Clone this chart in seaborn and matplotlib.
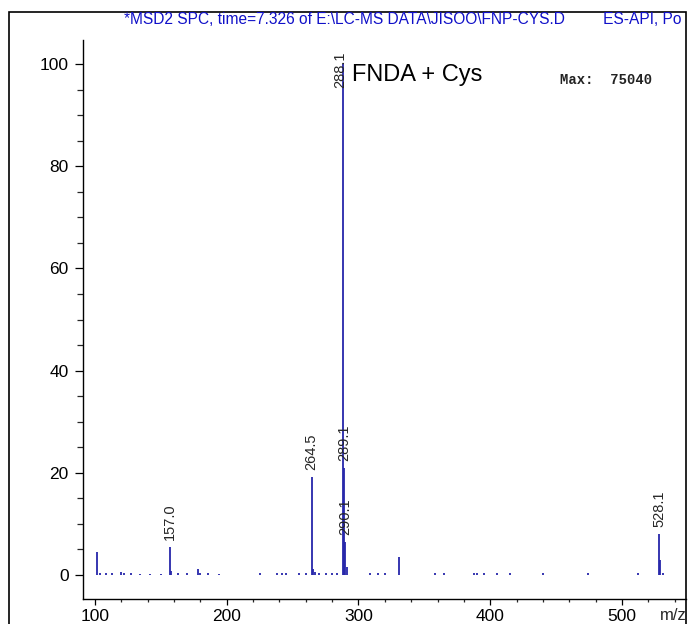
import numpy as np
import pandas as pd
import matplotlib.pyplot as plt
import seaborn as sns
from matplotlib.ticker import MultipleLocator
from matplotlib.patches import Rectangle

# Peaks: m/z and relative abundance (%)
mz = [101.5, 104, 108, 113, 120, 122, 127, 134, 142, 150,
      157.0, 158, 163, 170, 178, 180, 186, 194, 225, 238,
      242, 245, 255, 260, 264.5, 265.5, 267, 270, 275, 280,
      284, 288.1, 289.1, 290.1, 291, 309, 315, 320, 330.5, 358,
      365, 388, 390, 395, 405, 415, 440, 474, 512, 528.1,
      529.1, 531]
abundance = [4.5, 0.3, 0.3, 0.4, 0.6, 0.3, 0.3, 0.2, 0.2, 0.2,
             5.5, 0.8, 0.3, 0.3, 1.2, 0.3, 0.3, 0.2, 0.3, 0.4,
             0.3, 0.3, 0.3, 0.3, 19.2, 1.2, 0.6, 0.4, 0.3, 0.3,
             0.3, 100, 21, 6.5, 1.5, 0.3, 0.3, 0.4, 3.5, 0.3,
             0.3, 0.3, 0.3, 0.3, 0.3, 0.3, 0.3, 0.3, 0.3, 8.0,
             3.0, 0.3]

# labelled peaks
label_mz = [157.0, 264.5, 289.1, 290.1, 528.1]
label_txt = ['157.0', '264.5', '289.1', '290.1', '528.1']

# header as visible in the instrument printout (cut at the frame)
header = r'*MSD2 SPC, time=7.326 of E:\LC-MS DATA\JISOO\FNP-CYS.D         ES-API, Po'

df = pd.DataFrame({'mz': mz, 'abundance': abundance})

sns.set_theme(style='ticks')
plt.rcParams['font.family'] = ['Liberation Sans', 'DejaVu Sans']

fig = plt.figure(figsize=(6.88, 6.24), dpi=100)
ax = fig.add_axes([83 / 688, 25 / 624, 603 / 688, 559 / 624])

blue = '#2626aa'
ax.vlines(df['mz'], 0, df['abundance'], color=blue, lw=1.3)

ax.set_xlim(90.9, 548.6)
ax.set_ylim(-4.7, 104.7)

sns.despine(ax=ax)
for s in ['left', 'bottom']:
    ax.spines[s].set_color('black')
    ax.spines[s].set_linewidth(1.0)

ax.xaxis.set_major_locator(MultipleLocator(100))
ax.xaxis.set_minor_locator(MultipleLocator(20))
ax.yaxis.set_major_locator(MultipleLocator(20))
ax.yaxis.set_minor_locator(MultipleLocator(5))
ax.tick_params(axis='x', which='major', length=4.5, width=0.9, pad=3,
               labelsize=12.5, colors='black', direction='out')
ax.tick_params(axis='x', which='minor', length=2.5, width=0.9, direction='out')
ax.tick_params(axis='y', which='major', length=5.8, width=0.9, pad=4.5,
               labelsize=12.5, colors='black', direction='out')
ax.tick_params(axis='y', which='minor', length=4, width=0.9, direction='out')
ax.set_xticks([100, 200, 300, 400, 500])

# peak labels
for m, t in zip(label_mz, label_txt):
    h = df.loc[np.isclose(df['mz'], m), 'abundance'].iloc[0]
    ax.annotate(t, (m, h), xytext=(0, 5), textcoords='offset points',
                rotation=90, ha='center', va='bottom', fontsize=10.5)
ax.annotate('288.1', (288.1, 100), xytext=(-2, -4), textcoords='offset points',
            rotation=90, ha='center', va='center', fontsize=10.5)

frame = Rectangle((9 / 688, -0.05), (686 - 9) / 688, 1 - 12 / 624 + 0.05,
                  transform=fig.transFigure, fill=False, lw=1.2, ec='black')
fig.add_artist(frame)

fig.text(124 / 688, 1 - 20 / 624, header, color='#1010c8', fontsize=11.2,
         ha='left', va='center')
fig.text(352 / 688, 1 - 75 / 624, 'FNDA + Cys', fontsize=17,
         ha='left', va='center', color='black')
fig.text(560 / 688, 1 - 80 / 624, 'Max:  75040', family='Liberation Mono',
         weight='bold', fontsize=10, ha='left', va='center', color='#222222')
fig.text(660 / 688, 1 - 615 / 624, 'm/z', fontsize=12, ha='left', va='center')

fig.savefig('out.png', dpi=100)
